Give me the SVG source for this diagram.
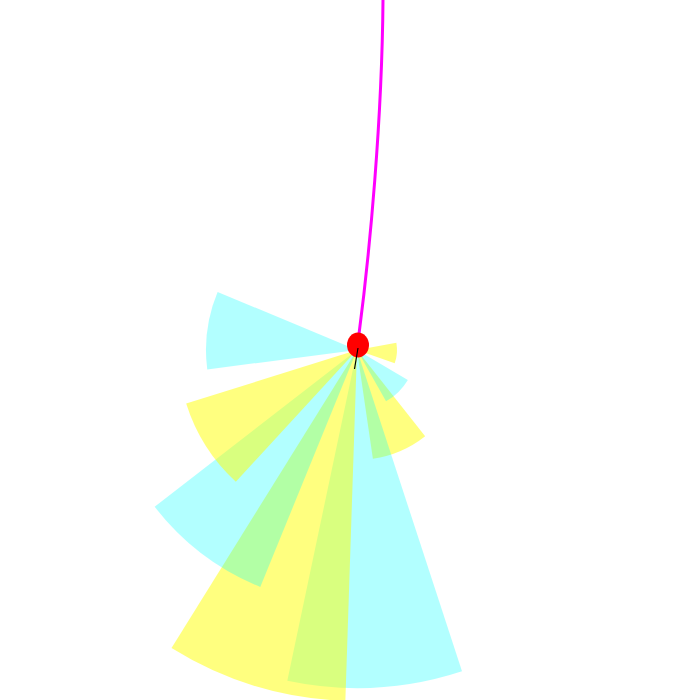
<svg xmlns="http://www.w3.org/2000/svg" width="700" height="700" viewBox="0 0 700 700">
<style>
.c{fill:rgb(0,255,255);fill-opacity:0.3;stroke:none}
.y{fill:rgb(255,255,0);fill-opacity:0.5;stroke:none}
.trail{fill:none;stroke:#ff00ff;stroke-width:3}
</style>
<rect width="700" height="700" fill="#ffffff"/>
<g id="sectors">
<path class="y" d="M357,350 L396.33,342.71 A40,40 0 0 1 394.71,363.35 Z"/>
<path class="y" d="M357,350 L425.16,436.33 A110,110 0 0 1 372.88,458.85 Z"/>
<path class="c" d="M357,350 L407.84,379.94 A59,59 0 0 1 386.05,401.35 Z"/>
<path class="c" d="M357,350 L462.01,671.28 A338,338 0 0 1 287.30,680.74 Z"/>
<path class="y" d="M357,350 L345.36,700.81 A351,351 0 0 1 171.52,647.99 Z"/>
<path class="c" d="M357,350 L260.27,587.02 A256,256 0 0 1 154.65,506.81 Z"/>
<path class="y" d="M357,350 L235.84,481.76 A179,179 0 0 1 186.19,403.54 Z"/>
<path class="c" d="M357,350 L207.26,369.45 A151,151 0 0 1 217.60,291.97 Z"/>
</g>
<path class="trail" d="M383,0 C382,120 370,250 359,334"/>
<g id="robot">
<ellipse cx="358" cy="345" rx="11" ry="12.5" fill="#ff0000"/>
<line x1="358" y1="348" x2="354.5" y2="369" stroke="#000000" stroke-width="1.2"/>
</g>
</svg>
